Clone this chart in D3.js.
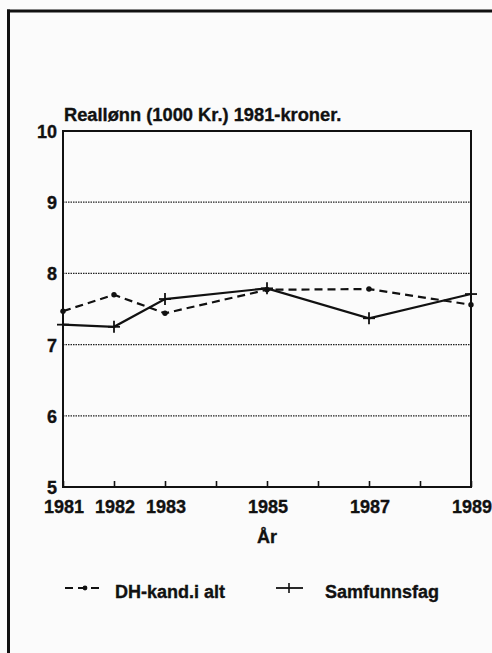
<!DOCTYPE html>
<html>
<head>
<meta charset="utf-8">
<script src="https://cdn.jsdelivr.net/npm/d3@7"></script>
<style>
  html, body { margin: 0; padding: 0; background: #fbfbfb; }
  svg { display: block; }
  text { font-family: "Liberation Sans", Arial, Helvetica, sans-serif; font-weight: bold; fill: #111; stroke: #111; stroke-width: 0.35px; }
</style>
</head>
<body>
<svg id="chart" width="492" height="653"></svg>
<script>
// ---- data ----
const years = [1981, 1982, 1983, 1985, 1987, 1989];
const dhKand = [7.47, 7.70, 7.44, 7.77, 7.78, 7.56];       // DH-kand.i alt (dashed, dots)
const samfunnsfag = [7.28, 7.25, 7.64, 7.79, 7.37, 7.71];  // Samfunnsfag (solid, + markers)
const xTickValues = [1981, 1982, 1983, 1984, 1985, 1986, 1987, 1988, 1989];
const xTickLabels = [1981, 1982, 1983, 1985, 1987, 1989];
const yTickValues = [5, 6, 7, 8, 9, 10];
const seriesNames = ["DH-kand.i alt", "Samfunnsfag"];
const titleText = "Reallønn (1000 Kr.) 1981-kroner.";
const xAxisTitle = "År";

// ---- layout ----
const svg = d3.select("#chart");
const pL = 63, pR = 471, pT = 131, pB = 487;
const FS = 18;
const x = d3.scaleLinear().domain([1981, 1989]).range([pL, pR]);
const y = d3.scaleLinear().domain([5, 10]).range([pB, pT]);

// outer page frame
svg.append("line").attr("x1", 7).attr("x2", 492).attr("y1", 11).attr("y2", 11)
  .attr("stroke", "#111").attr("stroke-width", 3);
svg.append("line").attr("x1", 8.5).attr("x2", 8.5).attr("y1", 9.5).attr("y2", 653)
  .attr("stroke", "#111").attr("stroke-width", 3);

// title
svg.append("text").attr("x", 64).attr("y", 121).attr("font-size", 18.3).text(titleText);

// gridlines (dotted)
svg.append("g").selectAll("line")
  .data(yTickValues.filter(v => v > 5 && v < 10))
  .join("line")
  .attr("x1", pL).attr("x2", pR)
  .attr("y1", d => y(d)).attr("y2", d => y(d))
  .attr("stroke", "#222").attr("stroke-width", 1.2)
  .attr("stroke-dasharray", "1.5,1");

// x axis ticks (inward) via d3 axis
const xAxis = d3.axisTop(x).tickValues(xTickValues).tickSize(6).tickFormat("");
const gx = svg.append("g").attr("transform", `translate(0,${pB})`).call(xAxis);
gx.select(".domain").remove();
gx.selectAll(".tick line").attr("stroke", "#111").attr("stroke-width", 1.6);

// x tick labels
svg.append("g").selectAll("text")
  .data(xTickLabels)
  .join("text")
  .attr("x", d => x(d) + 1).attr("y", 513)
  .attr("text-anchor", "middle").attr("font-size", FS)
  .text(d => d);

// y axis labels
const yAxis = d3.axisLeft(y).tickValues(yTickValues).tickSize(0).tickPadding(6).tickFormat(d3.format("d"));
const gy = svg.append("g").attr("transform", `translate(${pL},0)`).call(yAxis);
gy.select(".domain").remove();
gy.selectAll(".tick text")
  .attr("font-size", FS)
  .attr("font-family", "Liberation Sans, Arial, sans-serif")
  .attr("font-weight", "bold")
  .attr("fill", "#111")
  .attr("dy", "0.36em");

// plot frame
svg.append("rect").attr("x", pL).attr("y", pT)
  .attr("width", pR - pL).attr("height", pB - pT)
  .attr("fill", "none").attr("stroke", "#111").attr("stroke-width", 2);

// lines
const line = d3.line().x(d => x(d[0])).y(d => y(d[1]));
const dhData = years.map((yr, i) => [yr, dhKand[i]]);
const sfData = years.map((yr, i) => [yr, samfunnsfag[i]]);

svg.append("path").datum(dhData).attr("d", line)
  .attr("fill", "none").attr("stroke", "#111").attr("stroke-width", 2.2)
  .attr("stroke-dasharray", "8,5");
svg.append("g").selectAll("circle").data(dhData).join("circle")
  .attr("cx", d => x(d[0])).attr("cy", d => y(d[1])).attr("r", 2.7).attr("fill", "#111");

svg.append("path").datum(sfData).attr("d", line)
  .attr("fill", "none").attr("stroke", "#111").attr("stroke-width", 2.2);
const plus = svg.append("g").selectAll("g").data(sfData).join("g")
  .attr("transform", d => `translate(${x(d[0])},${y(d[1])})`);
plus.append("line").attr("x1", 0).attr("x2", 0).attr("y1", -6).attr("y2", 6)
  .attr("stroke", "#111").attr("stroke-width", 1.8);
plus.append("line").attr("x1", -6).attr("x2", 6).attr("y1", 0).attr("y2", 0)
  .attr("stroke", "#111").attr("stroke-width", 1.8);

// x axis title
svg.append("text").attr("x", x(1985)).attr("y", 543)
  .attr("text-anchor", "middle").attr("font-size", FS).text(xAxisTitle);

// legend
const legY = 588;
const leg1 = svg.append("g");
leg1.append("line").attr("x1", 65).attr("x2", 103).attr("y1", legY).attr("y2", legY)
  .attr("stroke", "#111").attr("stroke-width", 1.8).attr("stroke-dasharray", "8,5");
leg1.append("circle").attr("cx", 85).attr("cy", legY).attr("r", 2.4).attr("fill", "#111");
leg1.append("text").attr("x", 115).attr("y", 598).attr("font-size", FS).text(seriesNames[0]);

const leg2 = svg.append("g");
leg2.append("line").attr("x1", 276).attr("x2", 303).attr("y1", legY).attr("y2", legY)
  .attr("stroke", "#111").attr("stroke-width", 1.8);
leg2.append("line").attr("x1", 289).attr("x2", 289).attr("y1", legY - 5).attr("y2", legY + 5)
  .attr("stroke", "#111").attr("stroke-width", 1.6);
leg2.append("text").attr("x", 325).attr("y", 598).attr("font-size", FS).text(seriesNames[1]);
</script>
</body>
</html>
